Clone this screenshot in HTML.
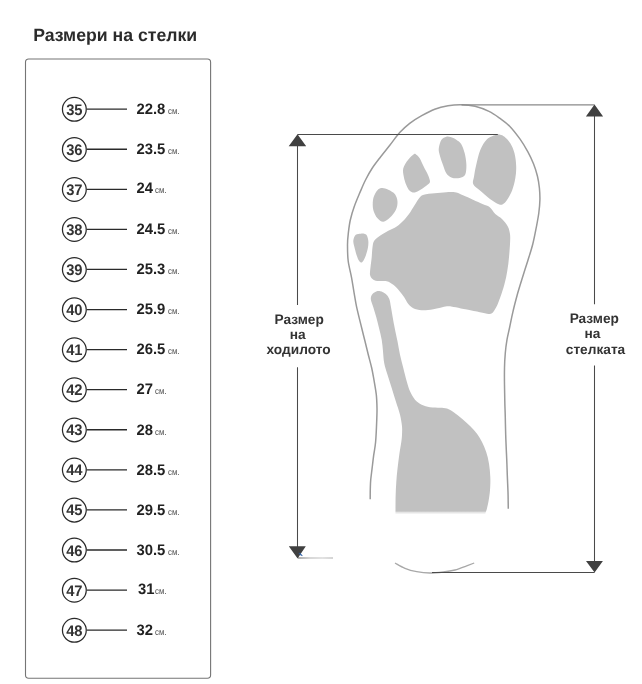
<!DOCTYPE html>
<html lang="bg"><head><meta charset="utf-8"><title>Размери на стелки</title>
<style>
html,body{margin:0;padding:0;background:#fff}
svg{display:block;filter:grayscale(1)}
text{font-family:"Liberation Sans",sans-serif;text-rendering:geometricPrecision}
.t{font-size:17.8px;font-weight:bold;fill:#2b2b2b}
.n{font-size:15.3px;font-weight:bold;fill:#333}
.v{font-size:15.2px;font-weight:bold;fill:#222}
.u{font-size:9px;fill:#484848}
.lab{font-size:13.7px;font-weight:bold;fill:#333}
.c{fill:none;stroke:#2a2a2a;stroke-width:1.25}
.l{stroke:#2a2a2a;stroke-width:1.3}
.g{fill:#c1c1c1}
.o{fill:none;stroke:#9a9a9a;stroke-width:1.5}
.d{stroke:#4a4a4a;stroke-width:1.05;fill:none}
.a{fill:#404040}
</style></head><body>
<svg width="642" height="684" viewBox="0 0 642 684">
<rect width="642" height="684" fill="#fff"/>
<text x="33.2" y="40.8" class="t" textLength="164" lengthAdjust="spacingAndGlyphs">Размери на стелки</text>
<rect x="25.5" y="59.0" width="185.1" height="619.3" rx="3.2" ry="3.2" fill="none" stroke="#757575" stroke-width="1.1"/>
<circle cx="74.35" cy="109.3" r="11.9" class="c"/><line x1="86.8" y1="109.15" x2="127" y2="109.15" class="l"/>
<text x="74.35" y="114.65" class="n" text-anchor="middle" textLength="16.4" lengthAdjust="spacingAndGlyphs">35</text>
<text x="136.4" y="113.9" class="v" textLength="28.9" lengthAdjust="spacingAndGlyphs">22.8</text><text x="168.0" y="113.9" class="u" textLength="11.5" lengthAdjust="spacingAndGlyphs">см.</text>
<circle cx="74.35" cy="149.4" r="11.9" class="c"/><line x1="86.8" y1="149.23" x2="127" y2="149.23" class="l"/>
<text x="74.35" y="154.73" class="n" text-anchor="middle" textLength="16.4" lengthAdjust="spacingAndGlyphs">36</text>
<text x="136.4" y="153.8" class="v" textLength="28.9" lengthAdjust="spacingAndGlyphs">23.5</text><text x="168.0" y="153.8" class="u" textLength="11.5" lengthAdjust="spacingAndGlyphs">см.</text>
<circle cx="74.35" cy="189.5" r="11.9" class="c"/><line x1="86.8" y1="189.30" x2="127" y2="189.30" class="l"/>
<text x="74.35" y="194.80" class="n" text-anchor="middle" textLength="16.4" lengthAdjust="spacingAndGlyphs">37</text>
<text x="136.6" y="192.9" class="v" textLength="16.5" lengthAdjust="spacingAndGlyphs">24</text><text x="155.1" y="192.9" class="u" textLength="11.5" lengthAdjust="spacingAndGlyphs">см.</text>
<circle cx="74.35" cy="229.5" r="11.9" class="c"/><line x1="86.8" y1="229.38" x2="127" y2="229.38" class="l"/>
<text x="74.35" y="234.88" class="n" text-anchor="middle" textLength="16.4" lengthAdjust="spacingAndGlyphs">38</text>
<text x="136.4" y="234.1" class="v" textLength="28.9" lengthAdjust="spacingAndGlyphs">24.5</text><text x="168.0" y="234.1" class="u" textLength="11.5" lengthAdjust="spacingAndGlyphs">см.</text>
<circle cx="74.35" cy="269.6" r="11.9" class="c"/><line x1="86.8" y1="269.46" x2="127" y2="269.46" class="l"/>
<text x="74.35" y="274.96" class="n" text-anchor="middle" textLength="16.4" lengthAdjust="spacingAndGlyphs">39</text>
<text x="136.4" y="274.2" class="v" textLength="28.9" lengthAdjust="spacingAndGlyphs">25.3</text><text x="168.0" y="274.2" class="u" textLength="11.5" lengthAdjust="spacingAndGlyphs">см.</text>
<circle cx="74.35" cy="309.7" r="11.9" class="c"/><line x1="86.8" y1="309.54" x2="127" y2="309.54" class="l"/>
<text x="74.35" y="315.04" class="n" text-anchor="middle" textLength="16.4" lengthAdjust="spacingAndGlyphs">40</text>
<text x="136.4" y="314.3" class="v" textLength="28.9" lengthAdjust="spacingAndGlyphs">25.9</text><text x="168.0" y="314.3" class="u" textLength="11.5" lengthAdjust="spacingAndGlyphs">см.</text>
<circle cx="74.35" cy="349.8" r="11.9" class="c"/><line x1="86.8" y1="349.61" x2="127" y2="349.61" class="l"/>
<text x="74.35" y="355.11" class="n" text-anchor="middle" textLength="16.4" lengthAdjust="spacingAndGlyphs">41</text>
<text x="136.4" y="354.4" class="v" textLength="28.9" lengthAdjust="spacingAndGlyphs">26.5</text><text x="168.0" y="354.4" class="u" textLength="11.5" lengthAdjust="spacingAndGlyphs">см.</text>
<circle cx="74.35" cy="389.8" r="11.9" class="c"/><line x1="86.8" y1="389.69" x2="127" y2="389.69" class="l"/>
<text x="74.35" y="395.19" class="n" text-anchor="middle" textLength="16.4" lengthAdjust="spacingAndGlyphs">42</text>
<text x="136.6" y="393.6" class="v" textLength="16.5" lengthAdjust="spacingAndGlyphs">27</text><text x="155.1" y="393.6" class="u" textLength="11.5" lengthAdjust="spacingAndGlyphs">см.</text>
<circle cx="74.35" cy="429.9" r="11.9" class="c"/><line x1="86.8" y1="429.77" x2="127" y2="429.77" class="l"/>
<text x="74.35" y="435.27" class="n" text-anchor="middle" textLength="16.4" lengthAdjust="spacingAndGlyphs">43</text>
<text x="136.6" y="434.5" class="v" textLength="16.5" lengthAdjust="spacingAndGlyphs">28</text><text x="155.1" y="434.5" class="u" textLength="11.5" lengthAdjust="spacingAndGlyphs">см.</text>
<circle cx="74.35" cy="470.0" r="11.9" class="c"/><line x1="86.8" y1="469.84" x2="127" y2="469.84" class="l"/>
<text x="74.35" y="475.34" class="n" text-anchor="middle" textLength="16.4" lengthAdjust="spacingAndGlyphs">44</text>
<text x="136.4" y="474.6" class="v" textLength="28.9" lengthAdjust="spacingAndGlyphs">28.5</text><text x="168.0" y="474.6" class="u" textLength="11.5" lengthAdjust="spacingAndGlyphs">см.</text>
<circle cx="74.35" cy="510.1" r="11.9" class="c"/><line x1="86.8" y1="509.92" x2="127" y2="509.92" class="l"/>
<text x="74.35" y="515.42" class="n" text-anchor="middle" textLength="16.4" lengthAdjust="spacingAndGlyphs">45</text>
<text x="136.4" y="514.7" class="v" textLength="28.9" lengthAdjust="spacingAndGlyphs">29.5</text><text x="168.0" y="514.7" class="u" textLength="11.5" lengthAdjust="spacingAndGlyphs">см.</text>
<circle cx="74.35" cy="550.1" r="11.9" class="c"/><line x1="86.8" y1="550.00" x2="127" y2="550.00" class="l"/>
<text x="74.35" y="555.50" class="n" text-anchor="middle" textLength="16.4" lengthAdjust="spacingAndGlyphs">46</text>
<text x="136.4" y="554.7" class="v" textLength="28.9" lengthAdjust="spacingAndGlyphs">30.5</text><text x="168.0" y="554.7" class="u" textLength="11.5" lengthAdjust="spacingAndGlyphs">см.</text>
<circle cx="74.35" cy="590.2" r="11.9" class="c"/><line x1="86.8" y1="590.07" x2="127" y2="590.07" class="l"/>
<text x="74.35" y="595.57" class="n" text-anchor="middle" textLength="16.4" lengthAdjust="spacingAndGlyphs">47</text>
<text x="138.0" y="594.3" class="v" textLength="16.5" lengthAdjust="spacingAndGlyphs">31</text><text x="155.1" y="594.3" class="u" textLength="11.5" lengthAdjust="spacingAndGlyphs">см.</text>
<circle cx="74.35" cy="630.3" r="11.9" class="c"/><line x1="86.8" y1="630.15" x2="127" y2="630.15" class="l"/>
<text x="74.35" y="635.65" class="n" text-anchor="middle" textLength="16.4" lengthAdjust="spacingAndGlyphs">48</text>
<text x="136.6" y="634.9" class="v" textLength="16.5" lengthAdjust="spacingAndGlyphs">32</text><text x="155.1" y="634.9" class="u" textLength="11.5" lengthAdjust="spacingAndGlyphs">см.</text>
<g class="g">
<path d="M497.0,134.5 C494.8,135.2 489.8,136.6 487.0,139.2 C484.2,141.8 482.1,145.7 480.3,150.0 C478.5,154.3 477.2,160.6 476.2,165.0 C475.1,169.4 474.5,173.5 474.0,176.7 C473.5,179.9 472.2,181.8 473.3,184.2 C474.4,186.5 477.5,188.3 480.3,190.8 C483.1,193.3 487.2,197.0 490.3,199.2 C493.4,201.4 496.6,203.4 498.7,204.2 C500.8,205.0 501.4,204.9 502.8,204.2 C504.2,203.5 505.5,202.2 507.0,200.0 C508.5,197.8 510.6,194.4 512.0,190.8 C513.4,187.2 514.6,182.3 515.3,178.3 C516.0,174.3 516.3,170.9 516.2,166.7 C516.1,162.5 515.5,157.2 514.5,153.3 C513.5,149.4 512.0,146.1 510.3,143.3 C508.6,140.5 506.2,138.1 504.5,136.7 C502.8,135.3 501.6,135.1 500.3,134.7 C499.1,134.3 499.2,133.8 497.0,134.5 Z"/>
<path d="M446.3,136.7 C444.8,137.2 442.6,138.1 441.3,140.0 C440.1,141.9 439.1,145.8 438.8,148.3 C438.5,150.8 439.0,152.2 439.7,155.0 C440.4,157.8 441.9,161.9 443.0,165.0 C444.1,168.1 444.9,171.2 446.3,173.3 C447.7,175.4 449.4,176.7 451.3,177.5 C453.2,178.3 455.9,178.5 458.0,178.3 C460.1,178.1 462.5,177.4 463.8,176.3 C465.1,175.2 465.6,173.9 466.0,171.7 C466.4,169.5 466.5,166.4 466.3,163.3 C466.1,160.2 465.5,156.5 464.7,153.3 C463.9,150.1 462.7,146.5 461.3,144.2 C459.9,141.9 458.1,140.9 456.3,139.7 C454.5,138.5 452.2,137.5 450.5,137.0 C448.8,136.5 447.8,136.2 446.3,136.7 Z"/>
<path d="M413.8,154.2 C412.4,155.1 409.8,157.7 408.0,160.0 C406.2,162.3 404.0,165.5 403.3,168.3 C402.6,171.1 403.3,173.9 403.8,176.7 C404.3,179.5 405.3,182.7 406.3,185.0 C407.3,187.3 408.3,189.6 409.7,190.8 C411.1,192.1 412.8,192.8 414.7,192.5 C416.6,192.2 419.2,190.4 421.3,189.2 C423.4,187.9 425.8,186.2 427.2,185.0 C428.6,183.8 429.9,183.4 430.0,181.7 C430.1,180.0 429.0,177.5 428.0,175.0 C427.0,172.5 425.2,169.5 423.8,166.7 C422.4,163.9 420.9,160.3 419.7,158.3 C418.4,156.3 417.3,155.4 416.3,154.7 C415.3,154.0 415.2,153.3 413.8,154.2 Z"/>
<path d="M382.5,188.0 C381.0,187.8 380.3,187.9 379.2,188.7 C378.1,189.4 376.8,190.6 375.8,192.5 C374.8,194.4 373.4,197.1 373.0,200.0 C372.6,202.9 372.6,206.9 373.3,210.0 C374.1,213.1 375.8,216.4 377.5,218.3 C379.2,220.2 381.2,221.8 383.3,221.7 C385.4,221.6 387.9,219.4 390.0,217.5 C392.1,215.6 394.6,212.6 395.8,210.0 C397.1,207.4 397.6,204.3 397.5,201.7 C397.4,199.1 396.5,196.2 395.0,194.2 C393.5,192.2 390.4,190.7 388.3,189.7 C386.2,188.7 384.0,188.2 382.5,188.0 Z"/>
<path d="M360.8,233.7 C359.4,233.9 357.1,233.6 355.8,234.8 C354.6,236.0 353.5,238.3 353.3,240.7 C353.1,243.1 354.3,246.4 354.9,249.0 C355.5,251.6 356.3,254.3 357.0,256.3 C357.7,258.3 358.3,259.8 359.0,260.8 C359.7,261.8 360.3,262.4 361.0,262.5 C361.7,262.6 362.2,262.5 363.0,261.3 C363.8,260.1 365.1,257.6 365.9,255.3 C366.7,253.0 367.6,249.7 368.0,247.3 C368.4,244.9 368.5,242.7 368.3,240.7 C368.1,238.7 367.4,236.5 366.7,235.3 C366.0,234.2 365.2,234.1 364.2,233.8 C363.2,233.5 362.2,233.5 360.8,233.7 Z"/>
<path d="M423.8,194.7 C426.3,194.0 430.9,193.7 434.7,193.3 C438.4,192.9 442.7,192.3 446.3,192.2 C449.9,192.1 453.5,192.0 456.3,192.5 C459.1,193.0 460.2,194.1 463.0,195.3 C465.8,196.5 469.7,198.2 473.0,199.7 C476.3,201.2 480.2,203.0 483.0,204.2 C485.8,205.4 487.4,205.4 489.5,207.0 C491.6,208.6 493.2,212.0 495.3,214.0 C497.4,216.0 499.9,216.9 502.0,219.0 C504.1,221.1 506.5,224.0 507.8,226.5 C509.1,229.0 509.6,231.1 510.0,234.0 C510.4,236.9 510.2,240.1 510.0,244.0 C509.8,247.9 509.4,252.9 509.0,257.3 C508.6,261.8 508.1,266.2 507.3,270.7 C506.6,275.1 505.7,279.6 504.5,284.0 C503.3,288.4 501.7,293.4 500.3,297.3 C498.9,301.2 497.6,304.7 496.2,307.3 C494.8,309.9 493.5,312.1 492.0,313.2 C490.5,314.3 489.5,314.0 487.0,313.7 C484.5,313.4 480.9,312.3 477.0,311.5 C473.1,310.7 467.6,309.8 463.7,309.0 C459.8,308.2 456.5,307.4 453.7,307.0 C450.9,306.6 450.4,305.9 447.0,306.3 C443.6,306.7 437.5,308.6 433.3,309.3 C429.1,310.0 425.0,310.5 421.7,310.3 C418.4,310.1 415.5,309.2 413.3,308.2 C411.1,307.1 409.8,305.8 408.3,304.0 C406.8,302.2 405.7,299.5 404.2,297.3 C402.7,295.1 401.0,292.8 399.2,290.7 C397.4,288.6 395.4,286.4 393.3,284.8 C391.2,283.2 389.4,281.8 386.7,281.2 C384.0,280.6 379.7,281.4 377.3,281.0 C374.9,280.6 373.7,280.0 372.5,279.0 C371.3,278.0 370.3,276.8 370.0,274.8 C369.7,272.9 370.2,270.2 370.5,267.3 C370.8,264.4 371.4,260.6 371.7,257.3 C372.0,254.0 372.1,250.1 372.5,247.3 C372.9,244.5 372.9,242.6 374.2,240.7 C375.4,238.8 377.6,237.4 380.0,235.7 C382.4,234.0 385.5,232.2 388.3,230.7 C391.1,229.2 394.2,228.2 396.7,226.5 C399.2,224.8 401.2,222.8 403.3,220.7 C405.4,218.6 407.1,216.6 409.0,214.0 C410.9,211.4 412.9,207.8 414.7,205.0 C416.5,202.2 418.2,199.2 419.7,197.5 C421.2,195.8 421.3,195.4 423.8,194.7 Z"/>
<path d="M381.7,291.5 C381.0,291.4 379.0,290.6 377.5,291.0 C376.0,291.4 373.6,292.7 372.5,294.0 C371.4,295.3 370.7,296.8 370.8,299.0 C370.9,301.2 372.4,304.2 373.3,307.3 C374.2,310.4 375.4,313.9 376.3,317.3 C377.2,320.8 378.1,324.3 379.0,328.0 C379.9,331.7 381.0,335.8 381.7,339.7 C382.4,343.6 382.6,347.4 383.0,351.3 C383.4,355.2 383.4,359.1 384.2,363.0 C384.9,366.9 386.2,370.5 387.5,374.7 C388.8,378.9 390.3,383.6 391.7,388.0 C393.1,392.4 394.4,396.9 395.8,401.3 C397.2,405.8 399.0,410.5 400.0,414.7 C401.0,418.9 401.7,423.0 402.0,426.3 C402.3,429.6 402.1,432.1 402.0,434.7 C401.9,437.3 401.8,438.6 401.3,442.0 C400.8,445.4 399.8,450.9 399.2,455.3 C398.6,459.8 398.0,464.2 397.5,468.7 C397.0,473.1 396.6,477.3 396.3,482.0 C396.0,486.7 395.7,491.8 395.6,497.0 C395.5,502.2 395.5,510.7 395.5,513.4 L485.3,513.4 C485.6,512.6 486.3,510.9 486.9,508.7 C487.5,506.5 488.2,503.4 488.7,500.3 C489.2,497.2 489.7,494.2 490.0,490.3 C490.3,486.4 490.5,481.4 490.3,477.0 C490.1,472.6 489.7,467.9 489.0,463.7 C488.3,459.5 487.4,455.6 486.2,452.0 C485.0,448.4 483.5,445.0 482.0,442.0 C480.5,439.0 478.9,436.4 477.0,433.8 C475.1,431.2 472.8,428.8 470.3,426.3 C467.8,423.8 464.8,421.2 462.0,418.8 C459.2,416.4 456.2,413.9 453.7,412.2 C451.2,410.5 449.3,409.2 447.0,408.5 C444.7,407.8 442.8,407.9 440.0,407.7 C437.2,407.5 433.1,407.7 430.0,407.2 C426.9,406.7 424.2,405.9 421.7,404.7 C419.2,403.4 416.9,401.9 415.0,399.7 C413.1,397.5 411.4,394.4 410.0,391.3 C408.6,388.2 407.8,385.2 406.7,381.3 C405.6,377.4 404.4,372.4 403.3,368.0 C402.2,363.6 401.0,359.1 400.0,354.7 C399.0,350.2 398.4,345.8 397.5,341.3 C396.6,336.9 395.5,332.0 394.7,328.0 C393.9,324.0 393.3,320.8 392.7,317.3 C392.1,313.9 391.6,310.4 391.0,307.3 C390.4,304.2 390.2,301.2 389.3,299.0 C388.4,296.8 387.1,295.2 385.8,294.0 C384.5,292.8 382.4,291.9 381.7,291.5 Z"/>
</g>
<rect x="394" y="511" width="94" height="2.6" fill="url(#hf)"/>
<path class="o" d="M370.2,499.3 C370.2,497.6 370.2,492.2 370.3,489.0 C370.4,485.8 370.4,483.3 370.7,480.0 C371.0,476.7 371.5,473.3 372.0,469.2 C372.5,465.1 373.1,459.7 373.7,455.2 C374.3,450.7 375.1,447.6 375.6,442.0 C376.1,436.4 376.5,427.0 376.7,421.3 C376.9,415.6 377.1,412.4 377.0,408.0 C376.9,403.6 376.8,399.1 376.3,394.7 C375.8,390.2 375.0,385.8 374.2,381.3 C373.4,376.9 372.7,372.4 371.7,368.0 C370.7,363.6 369.4,359.1 368.3,354.7 C367.2,350.2 366.1,345.8 365.0,341.3 C363.9,336.9 363.1,333.7 361.7,328.0 C360.3,322.3 358.0,313.2 356.7,307.3 C355.4,301.4 354.9,297.3 354.0,292.3 C353.1,287.3 352.5,282.5 351.5,277.3 C350.5,272.1 348.9,266.4 348.2,261.0 C347.5,255.6 347.5,249.6 347.5,245.0 C347.5,240.4 347.8,237.5 348.3,233.3 C348.8,229.1 349.3,224.4 350.3,220.0 C351.3,215.6 352.6,211.1 354.2,206.7 C355.8,202.2 357.7,197.8 359.6,193.3 C361.5,188.9 363.4,184.1 365.5,180.0 C367.6,175.9 369.5,172.3 372.0,168.5 C374.5,164.7 377.5,160.9 380.5,157.0 C383.5,153.1 386.8,149.1 390.0,145.0 C393.2,140.9 396.4,136.1 399.7,132.5 C403.0,128.9 406.1,126.1 409.7,123.3 C413.3,120.5 417.1,118.1 421.3,115.8 C425.5,113.5 430.2,110.9 434.7,109.2 C439.1,107.5 443.6,106.5 448.0,105.8 C452.4,105.0 456.8,104.6 461.3,104.7 C465.8,104.8 470.4,105.2 475.0,106.3 C479.6,107.4 484.8,109.4 489.0,111.4 C493.2,113.4 496.5,115.9 500.0,118.4 C503.5,120.9 506.6,123.0 509.9,126.4 C513.2,129.8 516.9,134.7 519.9,138.9 C522.9,143.1 525.6,147.7 527.9,151.8 C530.2,156.0 531.9,159.8 533.5,163.8 C535.1,167.8 536.4,172.0 537.4,176.0 C538.4,180.0 539.0,184.0 539.4,188.0 C539.8,192.0 540.0,195.8 539.9,200.0 C539.8,204.2 539.4,208.4 538.8,213.0 C538.2,217.6 537.3,222.1 536.3,227.3 C535.3,232.5 534.2,238.4 532.8,244.0 C531.4,249.6 529.6,254.9 527.8,260.7 C526.0,266.5 523.8,273.2 522.0,279.0 C520.2,284.8 518.5,290.1 517.0,295.7 C515.5,301.2 514.0,306.9 512.8,312.3 C511.5,317.7 510.5,323.4 509.5,328.0 C508.5,332.6 507.7,335.5 507.0,339.7 C506.3,343.9 505.7,348.3 505.3,353.0 C504.9,357.7 504.6,362.7 504.5,368.0 C504.4,373.3 504.4,379.1 504.5,384.7 C504.6,390.2 504.7,395.8 504.8,401.3 C504.9,406.9 505.2,412.4 505.3,418.0 C505.4,423.6 505.5,427.9 505.7,434.7 C505.9,441.5 506.4,451.9 506.7,458.7 C507.0,465.5 507.1,469.8 507.3,475.3 C507.5,480.9 507.8,486.4 508.0,492.0 C508.2,497.6 508.2,505.9 508.3,508.7"/>
<path d="M395.0,563.0 C396.7,563.9 401.4,566.8 405.0,568.3 C408.6,569.8 412.5,570.9 416.7,571.7 C420.9,572.5 425.6,573.0 430.0,573.0 C434.4,573.0 439.1,572.5 443.3,572.0 C447.5,571.5 451.1,571.0 455.0,570.0 C458.9,569.0 463.5,567.0 466.7,565.8 C469.9,564.6 472.9,563.5 474.2,563.0" fill="none" stroke="#a8a8a8" stroke-width="1.3"/>
<defs><linearGradient id="hf" x1="0" y1="0" x2="0" y2="1"><stop offset="0" stop-color="#fff" stop-opacity="0"/><stop offset="1" stop-color="#fff" stop-opacity="1"/></linearGradient><linearGradient id="fd" x1="0" y1="0" x2="1" y2="0"><stop offset="0" stop-color="#777"/><stop offset="0.35" stop-color="#bdbdbd"/><stop offset="0.7" stop-color="#d0d0d0"/><stop offset="1" stop-color="#b8b8b8"/></linearGradient></defs>
<path class="d" d="M297.5,134.5 H497.8 M297.5,140 V305 M297.5,367.3 V550"/>
<rect x="298" y="557.4" width="35" height="1.2" fill="url(#fd)"/>
<path d="M461.5,104.9 H594.5" stroke="#8a8a8a" stroke-width="1.4" fill="none"/>
<path class="d" d="M594.5,110 V304.2 M594.5,365.6 V565 M432,572.5 H594.6"/>
<path class="a" d="M297.5,134.2 L288.7,146.2 H306.2 Z M288.8,546.3 H305.8 L297.6,558.5 Z M594.5,104.6 L585.9,116.5 H603.1 Z M586,561 H602.9 L594.6,572.6 Z"/>
<g class="lab" text-anchor="middle">
<text x="299.2" y="323.9">Размер</text><text x="297.8" y="338.8">на</text><text x="298.6" y="353.9">ходилото</text>
<text x="594.3" y="323.4">Размер</text><text x="592.5" y="338.3">на</text><text x="595.5" y="353.5">стелката</text>
</g>
</svg>
<svg class="sp" width="6" height="5" viewBox="298 552 6 5" style="position:absolute;left:298px;top:552px;filter:none"><path d="M298.8,553.2 L300.6,553.5 L302.5,555.7 L300.9,555.4 Z" fill="#2f62a8" stroke="#2f62a8" stroke-width="0.4"/></svg>
</body></html>
